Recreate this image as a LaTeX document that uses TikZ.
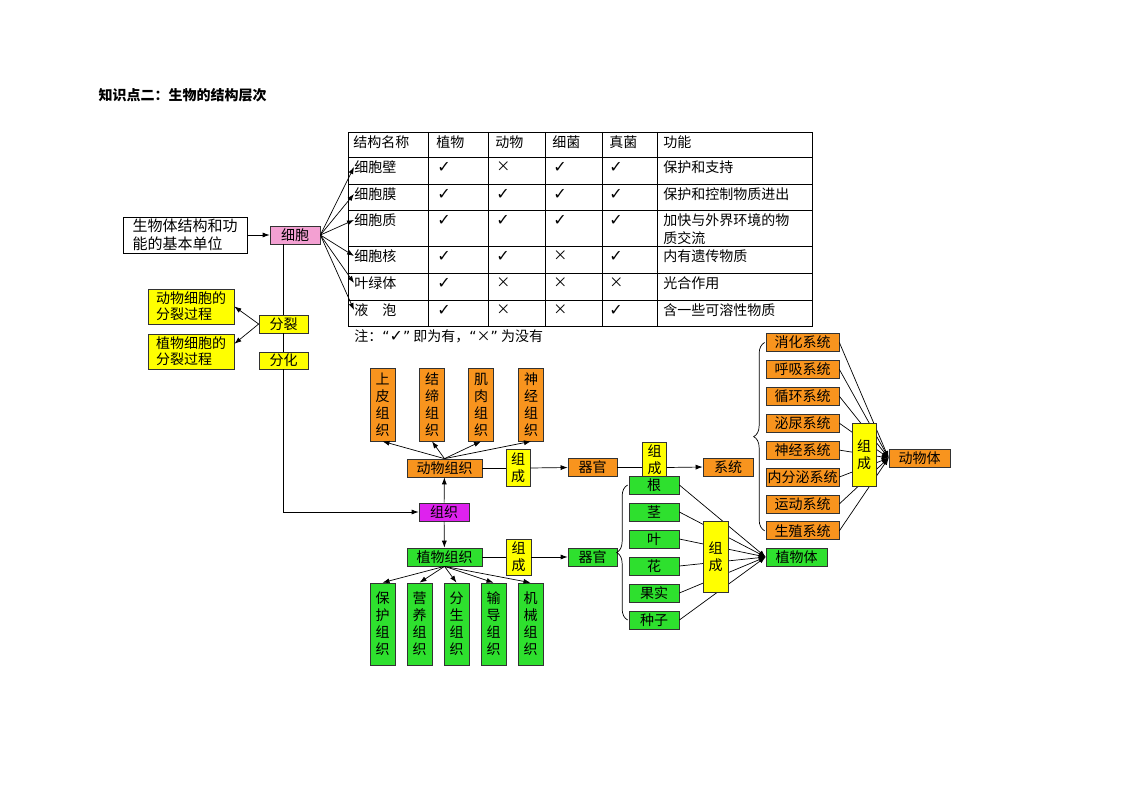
\documentclass[tikz,border=0pt]{standalone}
\usepackage{fontspec}
\setmainfont{Noto Sans CJK SC}
\newfontfamily\sym{DejaVu Sans}
\usetikzlibrary{arrows.meta,decorations.pathreplacing}
\definecolor{org}{RGB}{248,148,30}
\definecolor{yel}{RGB}{255,255,0}
\definecolor{grn}{RGB}{46,224,46}
\definecolor{mag}{RGB}{222,34,238}
\definecolor{pnk}{RGB}{243,160,210}
\newcommand{\chk}{{\sym\fontsize{16}{16}\selectfont ✓}}
\begin{document}
\begin{tikzpicture}[x=1pt,y=-1pt,line width=0.7pt,font=\fontsize{14}{17}\selectfont,
  bx/.style={rectangle,draw=black!80,inner xsep=2pt,inner ysep=0pt,minimum height=18pt},
  ob/.style={bx,fill=org},yb/.style={bx,fill=yel,align=center},gb/.style={bx,fill=grn},
  vb/.style={align=center,minimum width=25pt},
  ar/.style={-{Latex[length=7pt,width=5pt]}},
  brc/.style={decorate,decoration={brace,amplitude=11pt}},
  cel/.style={inner sep=0pt}]
\useasboundingbox (0,0) rectangle (1123,794);
\node[anchor=west,font=\fontsize{14}{17}\selectfont\bfseries] (ttl) at (95,95) {知识点二：生物的结构层次};
% table of the cell parts
\draw (348,132) rectangle (812,326);
\foreach \y in {157,184,210,246,273,300} \draw (348,\y) -- (812,\y);
\foreach \x in {428,488,545,602,657} \draw (\x,132) -- (\x,326);
\foreach \t/\x in {结构名称/353,植物/436,动物/495,细菌/552,真菌/609,功能/663}
  \node[cel,anchor=west] at (\x,142) {\t};
\foreach \n/\y/\a/\b/\c/\d/\f [count=\i] in {细胞壁/157/\chk/×/\chk/\chk/保护和支持,
    细胞膜/184/\chk/\chk/\chk/\chk/保护和控制物质进出,细胞质/210/\chk/\chk/\chk/\chk/{加快与外界环境的物\\质交流},
    细胞核/246/\chk/\chk/×/\chk/内有遗传物质,叶绿体/273/\chk/×/×/×/光合作用,液　泡/300/\chk/×/×/\chk/含一些可溶性物质}{
  \node[cel,anchor=west] (r\i) at (354,\y+10) {\n};
  \node[cel,anchor=west] at (437,\y+10) {\a};
  \node[cel,anchor=west] at (496,\y+10) {\b};
  \node[cel,anchor=west] at (553,\y+10) {\c};
  \node[cel,anchor=west] at (609,\y+10) {\d};
  \node[cel,anchor=north west,align=left,font=\fontsize{14}{18}\selectfont] at (663,\y+3) {\f};
}
\node[cel,anchor=west] (note) at (354,336) {注：{\sym“}\chk{\sym”} 即为有，{\sym“}×{\sym”} 为没有};
% cell
\node[bx,draw=black,align=left,minimum width=124pt,minimum height=36pt,font=\fontsize{15}{18}\selectfont] (info) at (185,235) {生物体结构和功\\能的基本单位};
\node[bx,fill=pnk,minimum width=50pt] (cell) at (295,235) {细胞};
\draw[ar] (info) -- (cell);
\foreach \i in {1,...,6} \draw[ar] (cell.east) -- (r\i.west);
\node[yb,minimum width=49pt] (fl) at (283.5,324) {分裂};
\node[yb,minimum width=49pt,minimum height=17pt] (fh) at (283.5,360.5) {分化};
\node[yb,align=left,minimum width=86pt,minimum height=35pt,font=\fontsize{14}{16}\selectfont] (dong) at (191,306.5) {动物细胞的\\分裂过程};
\node[yb,align=left,minimum width=86pt,minimum height=35pt,font=\fontsize{14}{16}\selectfont] (zhi) at (191,351.5) {植物细胞的\\分裂过程};
\draw[ar] (fl.west) -- (dong.east);
\draw[ar] (fl.west) -- (zhi.10);
% tissues
\node[bx,fill=mag,minimum width=50pt] (tis) at (444,512) {组织};
\node[ob,minimum width=75pt] (atis) at (444.5,468) {动物组织};
\node[gb,minimum width=75pt] (ptis) at (444.5,557) {植物组织};
\draw (cell.south-|fl) -- (fl.north);
\draw (fl.south) -- (fh.north);
\draw[ar] (fh.south) |- (tis.west);
\draw[ar] (tis) -- (atis);
\draw[ar] (tis) -- (ptis);
\foreach \t/\x [count=\k] in {上\\皮\\组\\织/382.5,结\\缔\\组\\织/432,肌\\肉\\组\\织/481,神\\经\\组\\织/531}{
  \node[ob,vb,minimum height=73pt] (a\k) at (\x,404.5) {\t};
  \draw[ar] (atis.north) -- (a\k.south);
}
\foreach \t/\x [count=\k] in {保\\护\\组\\织/382.5,营\\养\\组\\织/419.5,分\\生\\组\\织/456.5,输\\导\\组\\织/493.5,机\\械\\组\\织/530.5}{
  \node[gb,vb,minimum height=82pt] (p\k) at (\x,624) {\t};
  \draw[ar] (ptis.south) -- (p\k.north);
}
% organs
\node[yb,minimum width=24pt,minimum height=37pt] (zc1) at (518,467.5) {组\\成};
\node[yb,minimum width=25pt,minimum height=36pt] (zc2) at (518.5,557) {组\\成};
\node[ob,minimum width=49pt] (aorg) at (592.5,467.5) {器官};
\node[gb,minimum width=49pt] (porg) at (592.5,557) {器官};
\draw (atis.east) -- (zc1.west|-atis);
\draw[ar] (zc1.east|-atis) -- (aorg.west);
\draw (ptis.east) -- (zc2.west);
\draw[ar] (zc2.east) -- (porg.west);
% animal systems
\node[yb,minimum width=24pt,minimum height=36pt] (zc3) at (654.5,460) {组\\成};
\node[ob,minimum width=50pt] (sys) at (728,467) {系统};
\draw (aorg.east) -- (zc3.west|-aorg);
\draw[ar] (zc3.east|-aorg) -- (sys.west);
\node[ob,minimum width=61pt] (abody) at (919.5,458) {动物体};
\foreach \t [count=\i] in {消化系统,呼吸系统,循环系统,泌尿系统,神经系统,内分泌系统,运动系统,生殖系统}{
  \node[ob,minimum width=73pt,inner xsep=0pt] (s\i) at (802.5,{342.5+26.9*(\i-1)}) {\t};
  \draw[ar] (s\i.east) -- (abody.west);
}
\draw[brc] ([xshift=-1pt]s8.west) -- ([xshift=-1pt]s1.west);
\node[yb,minimum width=24pt,minimum height=63pt] (zc4) at (864,454.5) {组\\成};
% plant organs
\node[gb,minimum width=61pt] (pbody) at (796.5,557) {植物体};
\foreach \t [count=\i] in {根,茎,叶,花,果实,种子}{
  \node[gb,minimum width=50pt] (o\i) at (654,{485+27*(\i-1)}) {\t};
  \draw[ar] (o\i.east) -- (pbody.west);
}
\draw[brc] ([xshift=-1pt]o6.west) -- ([xshift=-1pt]o1.west);
\node[yb,minimum width=25pt,minimum height=71pt] (zc5) at (715.5,556.5) {组\\成};
\end{tikzpicture}
\end{document}
